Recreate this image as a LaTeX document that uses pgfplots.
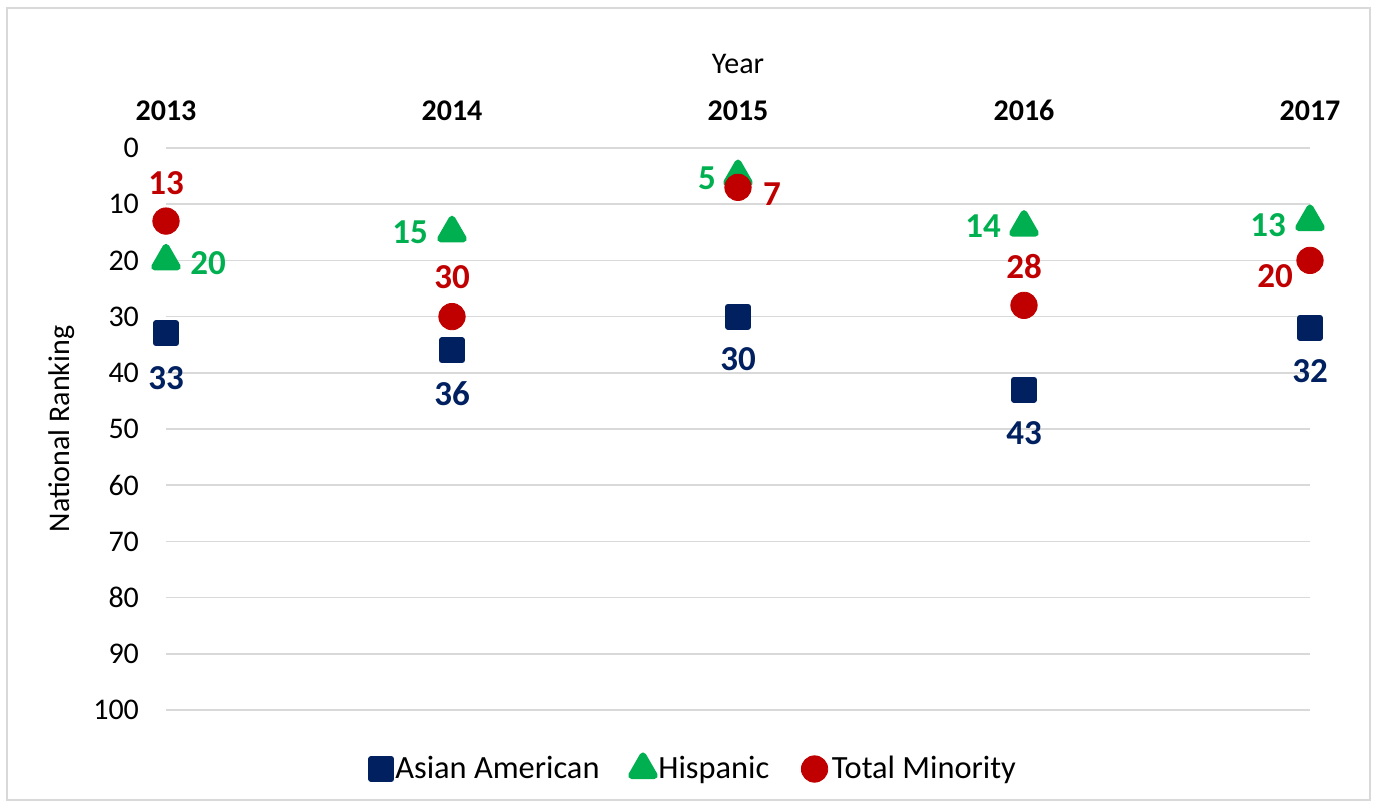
\documentclass[border=0pt]{standalone}
\usepackage{pgfplots}
\usepackage{pgfplotstable}
\pgfplotsset{compat=1.18}
\usepackage{fontspec}
\setmainfont{Carlito}
\definecolor{navy}{HTML}{002060}
\definecolor{grn}{HTML}{00B050}
\definecolor{redm}{HTML}{C00000}
\definecolor{gridc}{HTML}{D9D9D9}

\pgfplotstableread{
x y dx dy
2013 33 0 -22.5
2014 36 0 -21.5
2015 30 0 -21.5
2016 43 0 -21.5
2017 32 0 -21.5
}\asian
\pgfplotstableread{
x y dx dy
2013 20 21 -1.5
2014 15 -21 0
2015 5 -15.5 -1
2016 14 -20.5 0.5
2017 13 -21 -2
}\hisp
\pgfplotstableread{
x y dx dy
2013 13 0 19
2014 30 0 19.5
2015 7 17 -3.5
2016 28 0 19.5
2017 20 -17.5 -8
}\total

\begin{document}
\begin{tikzpicture}
\path (-83pt,-49pt) rectangle (605.5pt,355pt);
\draw[gridc, line width=0.75pt] (-79.5pt,-45pt) rectangle (602pt,351pt);
\begin{axis}[
  scale only axis, width=572pt, height=281pt,
  xmin=2013, xmax=2017, ymin=0, ymax=100, y dir=reverse,
  axis line style={draw=none}, major tick length=0pt,
  xtick={2013,2014,2015,2016,2017},
  xticklabels={2013,2014,2015,2016,2017},
  xticklabel pos=upper,
  ytick={0,10,...,100},
  ymajorgrids, grid style={gridc, line width=0.75pt},
  clip=false,
  /pgf/number format/assume math mode=true,
  every tick label/.append style={font=\fontsize{15}{18}\selectfont},
  xticklabel style={font=\fontsize{15}{18}\selectfont\bfseries, yshift=10pt},
  yticklabel style={xshift=-10pt},
  title={Year},
  title style={at={(axis description cs:0.5,1.128)}, anchor=center, font=\fontsize{15}{18}\selectfont},
  ylabel={National Ranking},
  ylabel style={at={(axis description cs:-0.0909,0.5)}, anchor=center, font=\fontsize{15}{18}\selectfont},
  legend style={at={(axis description cs:0.463,-0.105)}, anchor=center, draw=none,
    font=\fontsize{16.2}{19}\selectfont,
    /tikz/every even column/.append style={column sep=14pt}},
  legend columns=3,
  nodes near coords,
  point meta=explicit,
  visualization depends on={\thisrow{dx}\as\dx},
  visualization depends on={\thisrow{dy}\as\dy},
]
\addplot[only marks, mark=square*, mark size=5pt,
  mark options={fill=navy, draw=navy, line width=3pt, line join=round},
  every node near coord/.style={anchor=center, xshift=\dx pt, yshift=\dy pt,
    font=\fontsize{17.5}{20}\selectfont\bfseries, text=navy}]
  table[x=x, y=y, meta=y]{\asian};
\addlegendentry{Asian American}
\addplot[only marks, mark=triangle*, mark size=6.6pt,
  mark options={fill=grn, draw=grn, line width=3.4pt, line join=round},
  every node near coord/.style={anchor=center, xshift=\dx pt, yshift=\dy pt,
    font=\fontsize{17.5}{20}\selectfont\bfseries, text=grn}]
  table[x=x, y=y, meta=y]{\hisp};
\addlegendentry{Hispanic}
\addplot[only marks, mark=*, mark size=6.6pt,
  mark options={fill=redm, draw=redm},
  every node near coord/.style={anchor=center, xshift=\dx pt, yshift=\dy pt,
    font=\fontsize{17.5}{20}\selectfont\bfseries, text=redm}]
  table[x=x, y=y, meta=y]{\total};
\addlegendentry{Total Minority}
\end{axis}
\end{tikzpicture}
\end{document}
